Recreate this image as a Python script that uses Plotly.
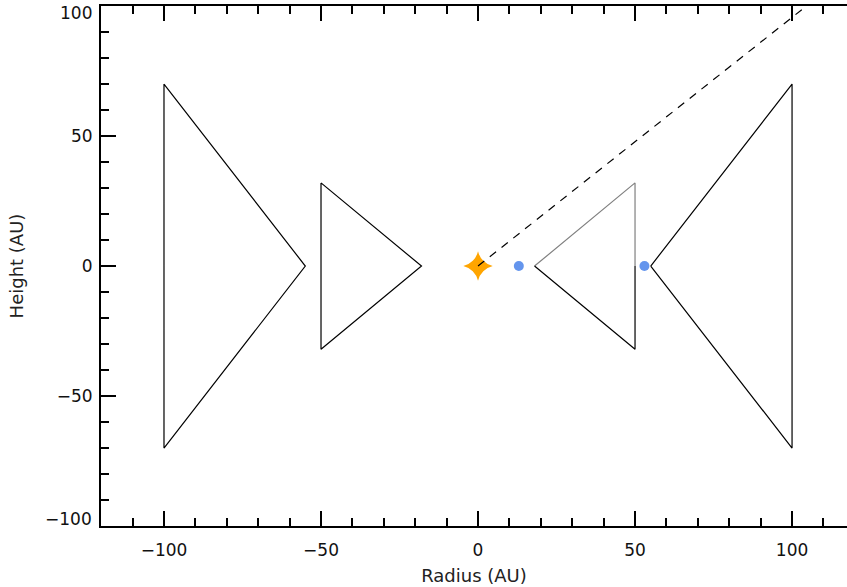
import plotly.graph_objects as go

# Disc cross-section: triangular wedges in (radius, height), AU
outer_left_x = [-100, -100, -55, -100]
outer_left_y = [70, -70, 0, 70]
inner_left_x = [-50, -50, -18, -50]
inner_left_y = [32, -32, 0, 32]
inner_right_upper_x = [18, 50, 50]
inner_right_upper_y = [0, 32, 0]
inner_right_lower_x = [50, 50, 18]
inner_right_lower_y = [0, -32, 0]
outer_right_x = [55, 100, 100, 55]
outer_right_y = [0, 70, -70, 0]

# Central star, planets and line of sight
star_x, star_y = [0], [0]
planet_x = [13, 53]
planet_y = [0, 0]
sight_x = [0, 120]
sight_y = [0, 114.8]

x_ticks = [-100, -50, 0, 50, 100]
y_ticks = [-100, -50, 0, 50, 100]
y_min, y_max = -100, 100

font_family = "DejaVu Sans"
black = "#000000"

fig = go.Figure()

for xs, ys, col in [
    (outer_left_x, outer_left_y, black),
    (inner_left_x, inner_left_y, black),
    (inner_right_upper_x, inner_right_upper_y, "#808080"),
    (inner_right_lower_x, inner_right_lower_y, black),
    (outer_right_x, outer_right_y, black),
]:
    fig.add_trace(go.Scatter(x=xs, y=ys, mode="lines",
                             line=dict(color=col, width=1.2), hoverinfo="skip"))

fig.add_trace(go.Scatter(x=star_x, y=star_y, mode="markers",
                         marker=dict(symbol="star-diamond", size=21, color="#FFA500",
                                     line=dict(width=0))))
fig.add_trace(go.Scatter(x=sight_x, y=sight_y, mode="lines",
                         line=dict(color=black, width=1.2, dash="8px,7px")))
fig.add_trace(go.Scatter(x=planet_x, y=planet_y, mode="markers",
                         marker=dict(symbol="circle", size=10, color="#6495ED",
                                     line=dict(width=0))))
# invisible trace anchoring the top axis
fig.add_trace(go.Scatter(x=[0], y=[0], xaxis="x2", mode="markers",
                         marker=dict(opacity=0), hoverinfo="skip"))

x_range = [-120.06, 117.5]
tick_font = dict(family=font_family, size=17, color="#111111")


def minus(v):
    return f"\u2212{abs(v)}" if v < 0 else str(v)


# end labels of the height axis are nudged inward so they stay on the page
y_ticktext = ["" if v in (y_min, y_max) else minus(v) for v in y_ticks]
for v, shift in [(y_max, -7), (y_min, 7)]:
    fig.add_annotation(x=0, xref="paper", y=v, yref="y", text=minus(v),
                       showarrow=False, xanchor="right", yanchor="middle",
                       xshift=-7, yshift=shift, font=tick_font)

fig.update_layout(
    width=847, height=587,
    margin=dict(l=101, r=0, t=6, b=61),
    paper_bgcolor="white", plot_bgcolor="white",
    showlegend=False,
    font=dict(family=font_family, color="#111111"),
    xaxis=dict(
        range=x_range, tickvals=x_ticks, ticktext=[minus(v) for v in x_ticks],
        ticks="inside", ticklen=15, tickwidth=1.5, tickcolor=black,
        minor=dict(dtick=10, tick0=0, ticks="inside", ticklen=8, tickwidth=1.5, tickcolor=black),
        showline=True, linecolor=black, linewidth=2,
        showgrid=False, zeroline=False, tickfont=tick_font, ticklabelstandoff=8,
        title=dict(text="Radius (AU)", font=dict(family=font_family, size=18, color="#222222"),
                   standoff=10),
    ),
    xaxis2=dict(
        overlaying="x", side="top", matches="x", range=x_range,
        tickvals=x_ticks, showticklabels=False,
        ticks="inside", ticklen=15, tickwidth=1.5, tickcolor=black,
        minor=dict(dtick=10, tick0=0, ticks="inside", ticklen=8, tickwidth=1.5, tickcolor=black),
        showline=True, linecolor=black, linewidth=2,
        showgrid=False, zeroline=False,
    ),
    yaxis=dict(
        range=[y_min, y_max + 0.05], tickvals=y_ticks, ticktext=y_ticktext,
        ticks="inside", ticklen=15, tickwidth=1.5, tickcolor=black,
        minor=dict(dtick=10, tick0=0, ticks="inside", ticklen=8, tickwidth=1.5, tickcolor=black),
        showline=True, linecolor=black, linewidth=2,
        showgrid=False, zeroline=False, tickfont=tick_font, ticklabelstandoff=3,
        title=dict(text="Height (AU)", font=dict(family=font_family, size=18, color="#222222"),
                   standoff=28),
    ),
)

fig.write_html("out.html")
